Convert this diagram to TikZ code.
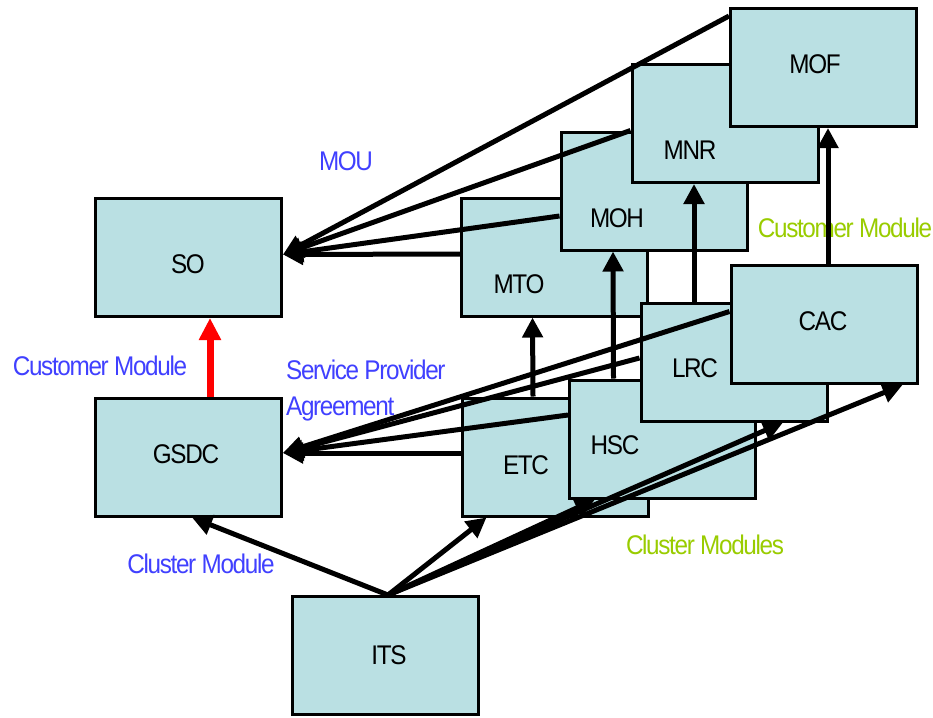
\documentclass[tikz,border=0pt]{standalone}
\usepackage{fontspec}
\setmainfont{Liberation Sans}[FakeStretch=0.9, LetterSpace=-5]
\usetikzlibrary{arrows.meta,calc}
\definecolor{boxfill}{RGB}{186,224,227}
\definecolor{lblblue}{RGB}{64,64,255}
\definecolor{lblgreen}{RGB}{153,204,0}
\begin{document}
\begin{tikzpicture}[x=1pt,y=-1pt,
  box/.style={draw=black, line width=3pt, fill=boxfill, minimum width=186pt, minimum height=118pt, inner sep=0pt},
  txt/.style={anchor=base, font=\fontsize{27}{30}\selectfont, inner sep=0pt},
  lbl/.style={anchor=base, font=\fontsize{27}{30}\selectfont, inner sep=0pt},
  conn/.style={draw=black, line width=5pt, -{Triangle[length=20pt,width=20pt]}},
  redarr/.style={draw=red, line width=7pt, -{Triangle[length=22pt,width=21pt]}}]
\useasboundingbox (0,0) rectangle (933,717);

% upper cluster
\node[box] (MTO) at (554.5,257) {};
\node[txt] (tMTO) at (519,293) {MTO};
\node[box] (MOH) at (654,191) {};
\node[txt] (tMOH) at (617,227) {MOH};
\node[box] (MNR) at (725,123.5) {};
\node[txt] (tMNR) at (690,159) {MNR};
\node[box] (MOF) at (823.5,67.5) {};
\node[txt] (tMOF) at (815,73) {MOF};

% lower cluster
\node[box] (ETC) at (555,457) {};
\node[txt] (tETC) at (526,474) {ETC};
\node[box] (HSC) at (662.5,439) {};
\node[txt] (tHSC) at (615,454) {HSC};
\node[box] (LRC) at (734,362) {};
\node[txt] (tLRC) at (695,377) {LRC};
\node[box] (CAC) at (824,324.5) {};
\node[txt] (tCAC) at (823,330) {CAC};

% left and bottom
\node[box] (SO) at (188.5,257.5) {};
\node[txt] (tSO) at (188,273) {SO};
\node[box] (GSDC) at (188.5,457) {};
\node[txt] (tGSDC) at (186,463) {GSDC};
\node[box] (ITS) at (385,655.5) {};
\node[txt] (tITS) at (389,664) {ITS};

% labels
\node[lbl, text=lblblue] (mou) at (346,170) {MOU};
\node[lbl, text=lblblue] (cm1) at (100,375) {Customer Module};
\node[lbl, text=lblblue, anchor=base west] (spa1) at (286,379) {Service Provider};
\node[lbl, text=lblblue, anchor=base west] (spa2) at (286,415) {Agreement};
\node[lbl, text=lblblue] (clm) at (201,573) {Cluster Module};
\node[lbl, text=lblgreen] (cm2) at (845,237) {Customer Module};
\node[lbl, text=lblgreen] (clms) at (705,554) {Cluster Modules};

% MOU connectors to SO
\coordinate (soin) at ($(SO.east)+(0,-3)$);
\draw[conn] ($(MOF.north west)+(0,9)$) -- (soin);
\draw[conn] ($(MNR.west)+(0,7)$) -- (soin);
\draw[conn] ($(MOH.west)+(0,25)$) -- (soin);
\draw[conn] ($(MTO.west)+(0,-3)$) -- (soin);

% Service provider agreement connectors to GSDC
\coordinate (gsdcin) at ($(GSDC.east)+(0,-4)$);
\draw[conn] ($(CAC.west)+(0,-13)$) -- (gsdcin);
\draw[conn] ($(LRC.west)+(0,-4)$) -- (gsdcin);
\draw[conn] ($(HSC.west)+(0,-24)$) -- (gsdcin);
\draw[conn] ($(ETC.west)+(0,-4)$) -- (gsdcin);

% customer module verticals
\draw[conn] ($(ETC.north)+(-22,0)$) -- ($(MTO.south)+(-22,0)$);
\draw[conn] ($(HSC.north)+(-49,0)$) -- ($(MOH.south)+(-41,0)$);
\draw[conn] ($(LRC.north)+(-40,0)$) -- ($(MNR.south)+(-31,0)$);
\draw[conn] ($(CAC.north)+(4,0)$) -- ($(MOF.south)+(4.5,0)$);
\draw[redarr] ($(GSDC.north)+(21.5,0)$) -- ($(SO.south)+(21.5,0)$);

% cluster module connectors from ITS
\coordinate (itsout) at ($(ITS.north)+(3,0)$);
\draw[conn] (itsout) -- ($(GSDC.south)+(3.5,0)$);
\draw[conn] (itsout) -- ($(ETC.south west)+(26,0)$);
\draw[conn] (itsout) -- ($(HSC.south west)+(27,0)$);
\draw[conn] (itsout) -- ($(LRC.south)+(49,0)$);
\draw[conn] (itsout) -- ($(CAC.south east)+(-16,0)$);
\end{tikzpicture}
\end{document}
